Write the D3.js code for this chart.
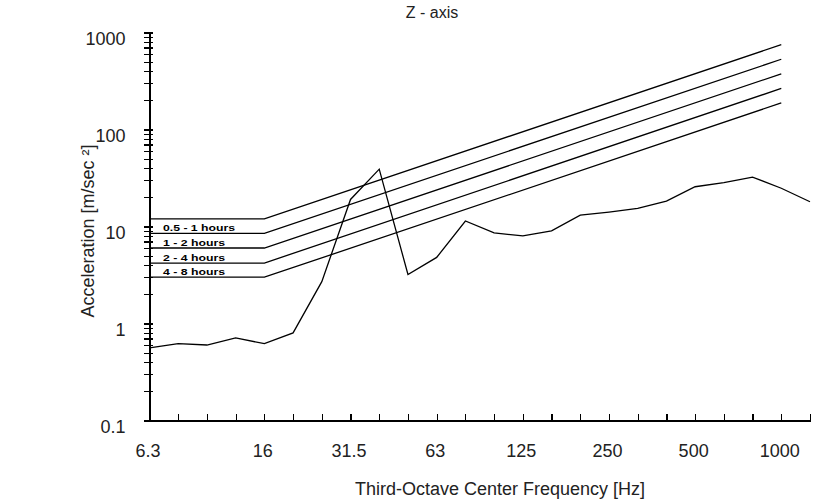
<!DOCTYPE html>
<html>
<head>
<meta charset="utf-8">
<script src="https://cdn.jsdelivr.net/npm/d3@7"></script>
<style>
  body { margin: 0; background: #fff; }
  svg { display: block; font-family: Arial, "Liberation Sans", sans-serif; }
</style>
</head>
<body>
<svg id="chart" width="819" height="502"></svg>
<script>
// third-octave bands along the x axis (1250 is only the closing tick)
const bands = ['6.3', '8', '10', '12.5', '16', '20', '25', '31.5', '40', '50', '63', '80',
  '100', '125', '160', '200', '250', '315', '400', '500', '630', '800', '1000', '1250'];
const bandLabels = ['6.3', '16', '31.5', '63', '125', '250', '500', '1000'];

// measured z-axis acceleration, one value per band [m/sec²]
const measured = [0.56, 0.62, 0.60, 0.71, 0.62, 0.80, 2.7, 19, 39, 3.2, 4.8, 11.4,
  8.6, 8.0, 9.0, 13.1, 14.1, 15.4, 18.3, 25.7, 28.3, 32.3, 24.8, 18.0];

// exposure limit curves: flat from 6.3 to 16 Hz, then straight up to 1000 Hz
const limitBands = ['6.3', '16', '1000'];
const limitLow = [12, 8.5, 6, 4.2, 3];
const limitHigh = [750, 530, 375, 265, 188];
const limitNames = ['', '0.5 - 1 hours', '1 - 2 hours', '2 - 4 hours', '4 - 8 hours'];

const svg = d3.select('#chart');
svg.append('rect').attr('width', 819).attr('height', 502).attr('fill', '#fff');

const x = d3.scalePoint().domain(bands).range([149.5, 810]);
const y = d3.scaleLog().domain([0.1, 1000]).range([420.5, 32.5]);

const isDecade = d => Math.abs(Math.log10(d) - Math.round(Math.log10(d))) < 1e-6;

// Y axis: ticks cross the axis line, labels only on decades
const yAxis = svg.append('g')
  .attr('transform', 'translate(149.5,0)')
  .call(d3.axisLeft(y)
    .tickValues(y.ticks())
    .tickSize(6)
    .tickSizeOuter(0)
    .tickPadding(18)
    .tickFormat(d => isDecade(d) ? d3.format('~g')(d) : ''));
yAxis.selectAll('.tick line').attr('x1', 3).attr('x2', -6);
yAxis.selectAll('.tick text').attr('dy', '0.68em');

// X axis: small inward ticks on every band
const xAxis = svg.append('g')
  .attr('transform', 'translate(0,420.5)')
  .call(d3.axisBottom(x)
    .tickSize(-7)
    .tickSizeOuter(0)
    .tickPadding(24)
    .tickFormat(d => bandLabels.includes(d) ? d : ''));
xAxis.selectAll('.tick text').attr('dx', -2);

svg.selectAll('.domain, .tick line')
  .attr('stroke', '#000')
  .attr('stroke-width', 1.2)
  .attr('shape-rendering', 'crispEdges');
svg.selectAll('.tick text')
  .attr('fill', '#222')
  .attr('font-size', 18)
  .attr('font-family', 'Arial, "Liberation Sans", sans-serif');

const line = d3.line()
  .x(d => x(d.band))
  .y(d => y(d.value));

// limit curves
limitLow.forEach((low, i) => {
  const pts = [
    { band: limitBands[0], value: low },
    { band: limitBands[1], value: low },
    { band: limitBands[2], value: limitHigh[i] }
  ];
  svg.append('path')
    .datum(pts)
    .attr('d', line)
    .attr('fill', 'none')
    .attr('stroke', '#000')
    .attr('stroke-width', 1.3);

  if (limitNames[i]) {
    svg.append('text')
      .attr('x', 163)
      .attr('y', y(low) - 2)
      .attr('font-size', 9)
      .attr('font-weight', 'bold')
      .attr('textLength', i === 1 ? 72 : 62)
      .attr('lengthAdjust', 'spacingAndGlyphs')
      .text(limitNames[i]);
  }
});

// measured spectrum
svg.append('path')
  .datum(bands.map((b, i) => ({ band: b, value: measured[i] })))
  .attr('d', line)
  .attr('fill', 'none')
  .attr('stroke', '#000')
  .attr('stroke-width', 1.3);

// titles
svg.append('text')
  .attr('x', 432).attr('y', 18)
  .attr('text-anchor', 'middle')
  .attr('font-size', 16)
  .attr('fill', '#222')
  .text('Z - axis');

svg.append('text')
  .attr('x', 500).attr('y', 495)
  .attr('text-anchor', 'middle')
  .attr('font-size', 18)
  .attr('fill', '#222')
  .text('Third-Octave Center Frequency [Hz]');

svg.append('text')
  .attr('transform', 'translate(94,231) rotate(-90)')
  .attr('text-anchor', 'middle')
  .attr('font-size', 18)
  .attr('fill', '#222')
  .text('Acceleration [m/sec ²]');
</script>
</body>
</html>
